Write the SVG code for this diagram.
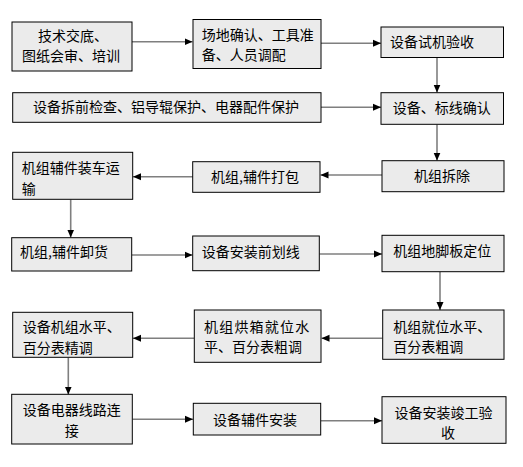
<svg xmlns="http://www.w3.org/2000/svg" width="523" height="467" viewBox="0 0 523 467">
<style>
.box{fill:#ebebeb;stroke:#000;stroke-width:1}
text{font-family:"Noto Sans CJK SC","Liberation Sans",sans-serif;font-size:14px;fill:#000}
.c{text-anchor:middle}
.ln{stroke:#7f7f7f;stroke-width:1.6;fill:none;marker-end:url(#ah)}
</style>
<defs>
<marker id="ah" viewBox="0 0 8 8" refX="8" refY="4" markerWidth="8" markerHeight="8" markerUnits="userSpaceOnUse" orient="auto">
<path d="M0,0.5 L8,4 L0,7.5 Z" fill="#000"/>
</marker>
</defs>
<rect width="523" height="467" fill="#fff"/>
<g id="connectors">
<line class="ln" x1="132" y1="41.7" x2="192.5" y2="41.7"/>
<line class="ln" x1="321" y1="43.3" x2="381" y2="43.3"/>
<line class="ln" x1="437" y1="57.5" x2="437" y2="92.5"/>
<line class="ln" x1="321" y1="107.3" x2="381" y2="107.3"/>
<line class="ln" x1="437" y1="124.5" x2="437" y2="160.5"/>
<line class="ln" x1="382" y1="175" x2="320.5" y2="175"/>
<line class="ln" x1="193" y1="176.7" x2="133" y2="176.7"/>
<line class="ln" x1="70.7" y1="199.5" x2="70.7" y2="237.5"/>
<line class="ln" x1="132" y1="255" x2="192.5" y2="255"/>
<line class="ln" x1="319.5" y1="254" x2="382" y2="254"/>
<line class="ln" x1="440" y1="272" x2="440" y2="310"/>
<line class="ln" x1="382.5" y1="338.3" x2="321.5" y2="338.3"/>
<line class="ln" x1="194" y1="338.3" x2="133" y2="338.3"/>
<line class="ln" x1="68.3" y1="357.5" x2="68.3" y2="394.5"/>
<line class="ln" x1="132.5" y1="419.3" x2="193" y2="419.3"/>
<line class="ln" x1="321" y1="420.7" x2="382" y2="420.7"/>
</g>
<g id="n1"><rect class="box" x="12" y="22" width="120" height="49"/><text class="c" x="73" y="41">技术交底、</text><text class="c" x="71" y="61">图纸会审、培训</text></g>
<g id="n2"><rect class="box" x="193" y="19.5" width="128" height="49"/><text x="201.7" y="40">场地确认、工具准</text><text x="201.7" y="60">备、人员调配</text></g>
<g id="n3"><rect class="box" x="381" y="27" width="122.5" height="30.5"/><text x="390" y="47">设备试机验收</text></g>
<g id="n4"><rect class="box" x="12.7" y="92.7" width="308.3" height="29.6"/><text x="33" y="112">设备拆前检查、铝导辊保护、电器配件保护</text></g>
<g id="n5"><rect class="box" x="381" y="92.7" width="122.5" height="31.6"/><text x="392.7" y="113">设备、标线确认</text></g>
<g id="n6"><rect class="box" x="12.7" y="152.3" width="120" height="47"/><text x="21.7" y="172.5">机组辅件装车运</text><text x="21.7" y="194">输</text></g>
<g id="n7"><rect class="box" x="192.7" y="161.7" width="127.3" height="30.6"/><text class="c" x="255" y="181.5">机组,辅件打包</text></g>
<g id="n8"><rect class="box" x="382" y="160.7" width="122" height="31"/><text class="c" x="442" y="181">机组拆除</text></g>
<g id="n9"><rect class="box" x="11.7" y="237.7" width="120" height="33.3"/><text x="20" y="257">机组,辅件卸货</text></g>
<g id="n10"><rect class="box" x="192.7" y="236" width="126.6" height="34.7"/><text x="201.7" y="257">设备安装前划线</text></g>
<g id="n11"><rect class="box" x="382" y="235.3" width="122" height="36.4"/><text x="393.3" y="256">机组地脚板定位</text></g>
<g id="n12"><rect class="box" x="12.7" y="312.3" width="120" height="45"/><text x="22.7" y="331.5">设备机组水平、</text><text x="22.7" y="353">百分表精调</text></g>
<g id="n13"><rect class="box" x="194.3" y="310" width="126.7" height="52.3"/><text x="204" y="332" letter-spacing="1.2">机组烘箱就位水</text><text x="204" y="351.5">平、百分表粗调</text></g>
<g id="n14"><rect class="box" x="382.7" y="310" width="121.3" height="49.3"/><text x="393.3" y="331.5">机组就位水平、</text><text x="393.3" y="352">百分表粗调</text></g>
<g id="n15"><rect class="box" x="11.7" y="394.3" width="120.6" height="49.7"/><text x="22.7" y="415">设备电器线路连</text><text class="c" x="71.7" y="436">接</text></g>
<g id="n16"><rect class="box" x="193.3" y="403.3" width="127.4" height="31.7"/><text class="c" x="255" y="424.5">设备辅件安装</text></g>
<g id="n17"><rect class="box" x="382" y="396.7" width="124" height="46.6"/><text class="c" x="443.5" y="418">设备安装竣工验</text><text class="c" x="448" y="438">收</text></g>
</svg>
